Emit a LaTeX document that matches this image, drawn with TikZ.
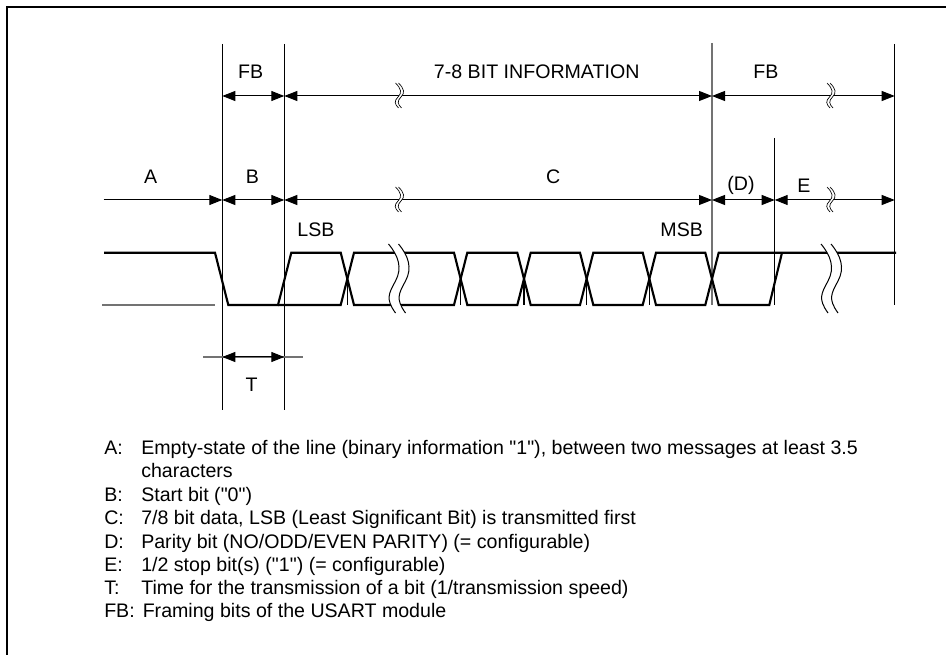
\documentclass[tikz,border=0pt]{standalone}
\usepackage{fontspec}
\setmainfont[Ligatures=TeXOff]{Liberation Sans}
\usetikzlibrary{arrows.meta}

\tikzset{
    thinline/.style={line width=0.75pt},
    greyline/.style={line width=1.1pt, draw=black!55},
    signal/.style={line width=1.6pt, line join=miter},
    tickline/.style={line width=1pt},
    span/.style={line width=0.75pt, {Triangle[length=9.75pt,width=7.5pt]}-{Triangle[length=9.75pt,width=7.5pt]}},
    label/.style={inner sep=0pt},
    legend/.style={inner sep=0pt, anchor=base west},
    tilde/.style={line width=0.5pt},
}
% double wave drawn over a dimension line
\newcommand{\spanbreak}[2]{
    \fill[white] (#1-4,#2-13) .. controls (#1+2,#2-7) and (#1+2.5,#2-3) .. (#1-1.5,#2+1)
        .. controls (#1-5.5,#2+5) and (#1-5,#2+8) .. (#1-1,#2+12) -- (#1+2,#2+12)
        .. controls (#1-2,#2+8) and (#1-2.5,#2+5) .. (#1+1.5,#2+1)
        .. controls (#1+5.5,#2-3) and (#1+5,#2-7) .. (#1-1,#2-13) -- cycle;
    \draw[tilde] (#1-4,#2-13) .. controls (#1+2,#2-7) and (#1+2.5,#2-3) .. (#1-1.5,#2+1)
        .. controls (#1-5.5,#2+5) and (#1-5,#2+8) .. (#1-1,#2+12);
    \draw[tilde] (#1-1,#2-13) .. controls (#1+5,#2-7) and (#1+5.5,#2-3) .. (#1+1.5,#2+1)
        .. controls (#1-2.5,#2+5) and (#1-2,#2+8) .. (#1+2,#2+12);
}
% double wave drawn over the signal
\newcommand{\signalbreak}[1]{
    \fill[white] (#1-10,244) .. controls (#1,256) and (#1+4,268) .. (#1-3,281)
        .. controls (#1-10,294) and (#1-13,299) .. (#1-3,313) -- (#1+7,313)
        .. controls (#1-3,299) and (#1,294) .. (#1+7,281)
        .. controls (#1+14,268) and (#1+10,256) .. (#1,244) -- cycle;
    \draw[thinline] (#1-10,244) .. controls (#1,256) and (#1+4,268) .. (#1-3,281)
        .. controls (#1-10,294) and (#1-13,299) .. (#1-3,313);
    \draw[thinline] (#1,244) .. controls (#1+10,256) and (#1+14,268) .. (#1+7,281)
        .. controls (#1,294) and (#1-3,299) .. (#1+7,313);
}

\begin{document}
\begin{tikzpicture}[x=0.75pt, y=-0.75pt, every node/.style={font=\fontsize{14.7}{17}\selectfont}]
\useasboundingbox (0,0) rectangle (946,655);

% ---------------- Frame ----------------
\draw[line width=1.5pt] (7,655) -- (7,7) -- (946,7);

% ---------------- Tick positions ----------------
\coordinate (Atop) at (222.3,44);  \coordinate (Abot) at (222.3,410);
\coordinate (Btop) at (284.3,44);  \coordinate (Bbot) at (284.3,410);
\coordinate (Ctop) at (712,43);    \coordinate (Cbot) at (712,305);
\coordinate (Dtop) at (774.7,138); \coordinate (Dbot) at (774.7,305);
\coordinate (Etop) at (894.7,44);  \coordinate (Ebot) at (894.7,305);

\draw[thinline] (Atop) -- (Abot);
\draw[thinline] (Btop) -- (Bbot);
\draw[greyline] (Ctop) -- (Cbot);
\draw[thinline] (Dtop) -- (Dbot);
\draw[thinline] (Etop) -- (Ebot);

% ---------------- Upper dimension row ----------------
\coordinate (fbL) at (222.3,96); \coordinate (fbM) at (284.3,96);
\coordinate (fbR) at (712,96);   \coordinate (fbE) at (894.7,96);
\draw[span] (fbL) -- (fbM);
\draw[span] (fbM) -- (fbR);
\draw[span] (fbR) -- (fbE);
\spanbreak{399.5}{96}
\spanbreak{831}{96}

\node[label] (lFBa) at (250.7,72) {FB};
\node[label] (lInfo) at (536.7,72) {7-8 BIT INFORMATION};
\node[label] (lFBb) at (766,72) {FB};

% ---------------- Lower dimension row ----------------
\coordinate (rowS) at (103.5,200); \coordinate (rowA) at (222.3,200);
\coordinate (rowB) at (284.3,200); \coordinate (rowC) at (712,200);
\coordinate (rowD) at (774.7,200); \coordinate (rowE) at (894.7,200);
\draw[thinline, -{Triangle[length=9.75pt,width=7.5pt]}] (rowS) -- (rowA);
\draw[span] (rowA) -- (rowB);
\draw[span] (rowB) -- (rowC);
\draw[span] (rowC) -- (rowD);
\draw[span] (rowD) -- (rowE);
\spanbreak{399.5}{200}
\spanbreak{831}{200}

\node[label] (lA) at (150.7,176.7) {A};
\node[label] (lB) at (252.3,176.7) {B};
\node[label] (lC) at (553.3,176.7) {C};
\node[label] (lD) at (741,185.7) {(D)};
\node[label] (lE) at (804,185.7) {E};
\node[label] (lLSB) at (316,229.3) {LSB};
\node[label] (lMSB) at (681.7,229.3) {MSB};

% ---------------- Signal ----------------
\draw[greyline] (102,305) -- (215,305);
\draw[signal] (104,252.7) -- (215,252.7) -- (228.3,305) -- (278,305) -- (291.3,252.7)
    -- (340.7,252.7) -- (354,305) -- (454,305) -- (467.3,252.7)
    -- (517.3,252.7) -- (530.7,305) -- (580,305) -- (593.3,252.7)
    -- (642.7,252.7) -- (656,305) -- (705.3,305) -- (718.7,252.7)
    -- (896,252.7);
\draw[signal] (278,305) -- (340.7,305) -- (354,252.7) -- (454,252.7) -- (467.3,305)
    -- (517.3,305) -- (530.7,252.7) -- (580,252.7) -- (593.3,305)
    -- (642.7,305) -- (656,252.7) -- (705.3,252.7) -- (718.7,305)
    -- (769.3,305) -- (782,252.7);
\draw[tickline] (347.3,279) -- (347.3,305);
\draw[tickline] (460.7,279) -- (460.7,305);
\draw[tickline] (524,279) -- (524,305);
\draw[tickline] (586.7,279) -- (586.7,305);
\draw[tickline] (649.3,279) -- (649.3,305);
\signalbreak{398.5}
\signalbreak{831}

% ---------------- Bit time ----------------
\coordinate (tS) at (203,357);  \coordinate (tA) at (222.3,357);
\coordinate (tB) at (284.3,357); \coordinate (tE) at (303,357);
\draw[greyline] (tS) -- (tE);
\draw[span] (tA) -- (tB);
\node[label] (lT) at (251.7,385) {T};

% ---------------- Legend ----------------
\node[legend] (kA) at (104,455) {A:};
\node[legend] (tAa) at (141,455) {Empty-state of the line (binary information "1"), between two messages at least 3.5};
\node[legend] (tAb) at (141,478) {characters};
\node[legend] (kB) at (104,501.5) {B:};
\node[legend] (tBa) at (141,501.5) {Start bit ("0")};
\node[legend] (kC) at (104,524.5) {C:};
\node[legend] (tCa) at (141,524.5) {7/8 bit data, LSB (Least Significant Bit) is transmitted first};
\node[legend] (kD) at (104,548) {D:};
\node[legend] (tDa) at (141,548) {Parity bit (NO/ODD/EVEN PARITY) (= configurable)};
\node[legend] (kE) at (104,571.5) {E:};
\node[legend] (tEa) at (141,571.5) {1/2 stop bit(s) ("1") (= configurable)};
\node[legend] (kT) at (104,594.5) {T:};
\node[legend] (tTa) at (141,594.5) {Time for the transmission of a bit (1/transmission speed)};
\node[legend] (kF) at (104,617.5) {FB:};
\node[legend] (tFa) at (142.5,617.5) {Framing bits of the USART module};
\end{tikzpicture}
\end{document}
